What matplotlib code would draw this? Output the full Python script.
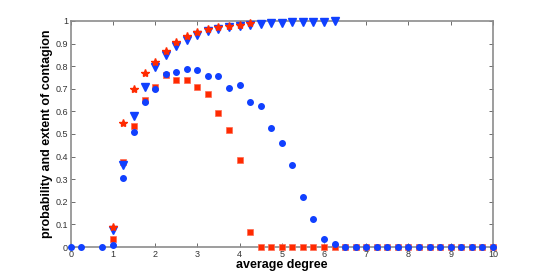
#!/usr/bin/env python3

import numpy as np
import matplotlib
matplotlib.use("Agg")
import matplotlib.pyplot as plt

# average degree grid (x = 0.5 has no data)
x_low = [0, 0.25, 0.75]
x_steps = list(np.arange(1, 10.01, 0.25))

# extent of contagion (blue circles)
extent_sim = [0, 0, 0,
              0.009, 0.307, 0.507, 0.643, 0.698, 0.764, 0.773, 0.788, 0.782,
              0.758, 0.758, 0.705, 0.718, 0.643, 0.625, 0.528, 0.462, 0.361,
              0.221, 0.122, 0.037, 0.015] + [0] * 15
# extent, analytic (red squares)
extent_th = [0.034, 0.376, 0.534, 0.652, 0.707, 0.760, 0.739, 0.739, 0.709,
             0.678, 0.594, 0.519, 0.383, 0.066] + [0] * 23
# probability of contagion, simulated (blue triangles)
prob_sim = [0.075, 0.361, 0.580, 0.709, 0.795, 0.851, 0.891, 0.916, 0.937,
            0.957, 0.963, 0.972, 0.979, 0.982, 0.986, 0.990, 0.993, 0.994,
            0.996, 0.997, 0.997, 0.999]
# probability, analytic (red stars)
prob_th = [0.090, 0.547, 0.700, 0.768, 0.817, 0.869, 0.909, 0.935, 0.950,
           0.966, 0.973, 0.979, 0.983, 0.990]

blue = "#1040ff"
red = "#ff2a00"
grey = "#8c8c8c"

plt.rcParams["font.family"] = ["Liberation Sans", "DejaVu Sans"]

fig = plt.figure(figsize=(5.45, 2.78), dpi=100)
ax = fig.add_axes([0.1297, 0.1115, 0.7746, 0.813])

xs = x_low + x_steps
ax.plot(x_steps[:len(extent_th)], extent_th, "s", color=red, ms=4.2, mec="#ff6a50", mew=0.5, clip_on=False, zorder=3)
ax.plot(xs[:len(extent_sim)], extent_sim, "o", color=blue, ms=4.0, mec=blue, clip_on=False, zorder=4)
ax.plot(x_steps[:len(prob_sim)], prob_sim, "v", color=blue, ms=5.8, mec=blue, clip_on=False, zorder=3)
ax.plot(x_steps[:len(prob_th)], prob_th, "*", color=red, ms=6.0, mec=red, clip_on=False, zorder=5)

ax.set_xlim(0, 10)
ax.set_ylim(0, 1)
ax.set_xticks(range(0, 11))
ax.set_yticks(np.arange(0, 1.01, 0.1))
ax.set_yticklabels(["0"] + ["%.1f" % v for v in np.arange(0.1, 0.95, 0.1)] + ["1"])

for s in ax.spines.values():
    s.set_color(grey)
    s.set_linewidth(1.2)
ax.tick_params(direction="in", length=3, width=0.6, color="#555555",
               labelsize=6.5, labelcolor="#333333", top=True, right=True, pad=2)

ax.set_xlabel("average degree", fontsize=9, fontweight="bold", labelpad=0)
ax.set_ylabel("probability and extent of contagion", fontsize=9, fontweight="bold", labelpad=2)

fig.savefig("out.png", dpi=100)
